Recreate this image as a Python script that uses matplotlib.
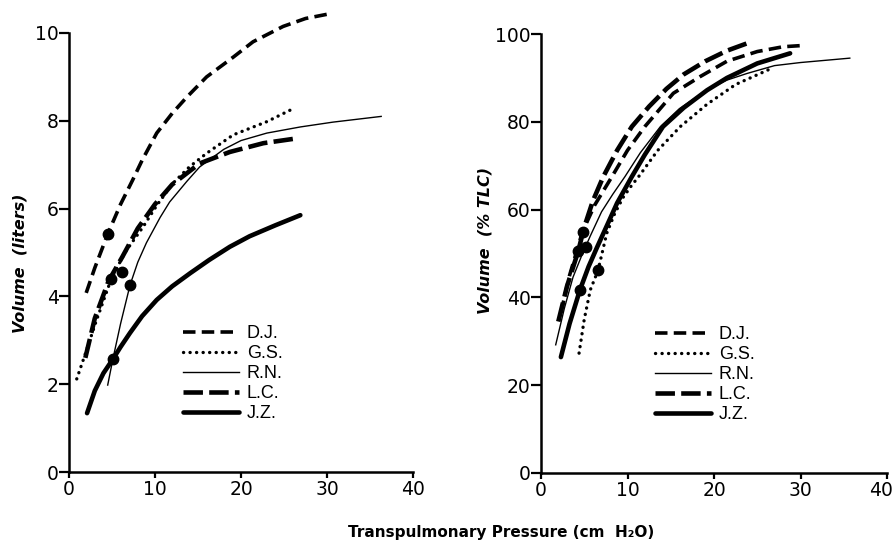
import matplotlib
matplotlib.use("Agg")
from matplotlib import pyplot as plt
from matplotlib.transforms import ScaledTranslation

plt.rcParams["lines.scale_dashes"] = False
plt.rcParams["font.family"] = ["DejaVu Sans"]

# ---- left panel: volume in liters ----
dj_l_x = [2.0, 3.0, 4.5, 6.0, 7.4, 8.5, 10.2, 12.0, 13.7, 16.0, 19.1, 21.4, 24.9, 27.5, 30.1]
dj_l_y = [4.08, 4.65, 5.42, 6.1, 6.65, 7.1, 7.72, 8.17, 8.54, 9.0, 9.45, 9.8, 10.15, 10.33, 10.43]

gs_l_x = [0.9, 2.0, 3.2, 4.9, 6.5, 8.6, 10.3, 12.1, 14.0, 16.0, 19.1, 23.0, 26.0]
gs_l_y = [2.12, 2.75, 3.46, 4.39, 5.0, 5.58, 6.1, 6.58, 6.95, 7.26, 7.68, 7.98, 8.27]

rn_l_x = [4.5, 5.1, 6.0, 7.1, 8.0, 9.0, 10.6, 11.7, 13.7, 15.2, 18.0, 20.0, 23.0, 26.9, 30.7, 36.3]
rn_l_y = [1.98, 2.57, 3.38, 4.26, 4.78, 5.22, 5.8, 6.15, 6.62, 6.95, 7.35, 7.55, 7.72, 7.86, 7.97, 8.1]

lc_l_x = [1.9, 3.0, 4.6, 6.2, 8.0, 10.0, 12.0, 15.2, 18.7, 22.6, 26.5]
lc_l_y = [2.6, 3.5, 4.35, 4.9, 5.55, 6.1, 6.55, 7.03, 7.29, 7.49, 7.6]

jz_l_x = [2.1, 3.0, 4.0, 5.1, 6.0, 7.1, 8.5, 10.2, 12.0, 14.1, 16.3, 18.7, 21.0, 24.0, 26.9]
jz_l_y = [1.34, 1.85, 2.25, 2.57, 2.85, 3.17, 3.55, 3.92, 4.23, 4.53, 4.83, 5.13, 5.37, 5.62, 5.85]

# reference points (filled circles), liters
dot_l_x = [4.5, 4.9, 6.2, 7.1, 5.1]
dot_l_y = [5.42, 4.39, 4.56, 4.26, 2.57]

# ---- right panel: volume in % TLC ----
dj_p_x = [2.3, 3.3, 4.8, 6.2, 8.2, 10.0, 12.0, 15.3, 18.4, 21.5, 25.0, 28.0, 30.4]
dj_p_y = [36.5, 45.0, 55.0, 61.0, 67.5, 73.5, 78.9, 86.5, 90.3, 93.8, 96.0, 97.1, 97.4]

gs_p_x = [4.4, 5.0, 5.7, 6.6, 7.6, 8.5, 9.5, 10.4, 11.4, 13.5, 16.1, 19.2, 22.5, 26.8]
gs_p_y = [27.3, 35.0, 41.7, 46.2, 54.6, 59.0, 62.8, 65.3, 67.8, 73.5, 78.9, 84.0, 88.5, 92.3]

rn_p_x = [1.7, 2.7, 3.7, 4.7, 5.7, 7.0, 8.3, 9.7, 11.5, 13.8, 16.0, 19.0, 21.5, 23.8, 27.0, 30.0, 35.7]
rn_p_y = [29.2, 37.5, 44.6, 49.5, 54.0, 59.5, 63.5, 67.5, 73.0, 78.9, 83.0, 87.0, 89.5, 91.0, 92.8, 93.5, 94.5]

lc_p_x = [2.0, 3.0, 4.3, 5.0, 6.0, 7.2, 8.8, 10.5, 12.5, 14.5, 16.5, 19.0, 21.5, 24.0]
lc_p_y = [34.5, 42.5, 50.5, 56.0, 62.0, 67.5, 73.5, 78.9, 83.5, 87.5, 90.8, 93.8, 96.2, 98.0]

jz_p_x = [2.3, 3.3, 4.5, 5.5, 6.5, 8.0, 8.8, 10.5, 12.0, 14.1, 16.5, 19.2, 21.5, 25.0, 28.8]
jz_p_y = [26.4, 34.0, 41.7, 47.0, 51.5, 58.0, 61.5, 67.5, 72.5, 78.9, 83.2, 87.2, 90.0, 93.3, 95.6]

dot_p_x = [4.8, 6.6, 5.2, 4.3, 4.5]
dot_p_y = [55.0, 46.2, 51.5, 50.5, 41.7]

names = ["D.J.", "G.S.", "R.N.", "L.C.", "J.Z."]
x_ticks = [0, 10, 20, 30, 40]

styles = {
    "D.J.": dict(lw=2.6, dashes=(9, 4.5), dash_capstyle="butt"),
    "G.S.": dict(lw=2.4, dashes=(0.1, 4.6), dash_capstyle="round"),
    "R.N.": dict(lw=1.0),
    "L.C.": dict(lw=3.3, dashes=(14, 4.5), dash_capstyle="butt"),
    "J.Z.": dict(lw=3.3, solid_capstyle="round"),
}

fig = plt.figure(figsize=(8.96, 5.51), dpi=100)
ax1 = fig.add_axes([69 / 896, 79 / 551, 344 / 896, 465 / 551])
ax2 = fig.add_axes([541 / 896, 78 / 551, 346 / 896, 465 / 551])

left = [(dj_l_x, dj_l_y), (gs_l_x, gs_l_y), (rn_l_x, rn_l_y), (lc_l_x, lc_l_y), (jz_l_x, jz_l_y)]
right = [(dj_p_x, dj_p_y), (gs_p_x, gs_p_y), (rn_p_x, rn_p_y), (lc_p_x, lc_p_y), (jz_p_x, jz_p_y)]

for ax, series, dx, dy in ((ax1, left, dot_l_x, dot_l_y), (ax2, right, dot_p_x, dot_p_y)):
    for name, (x, y) in zip(names, series):
        ax.plot(x, y, color="black", label=name, clip_on=False, **styles[name])
    ax.plot(dx, dy, "o", color="black", ms=7.5, clip_on=False)

ax1.set_xlim(0, 40)
ax1.set_ylim(0, 465 / 43.9)
ax1.set_yticks([0, 2, 4, 6, 8, 10])
ax1.spines["left"].set_bounds(0, 10)

ax2.set_xlim(0, 40)
ax2.set_ylim(0, 465 / 4.39)
ax2.set_yticks([0, 20, 40, 60, 80, 100])
ax2.spines["left"].set_bounds(0, 100)

for ax in (ax1, ax2):
    ax.set_xticks(x_ticks)
    ax.spines["top"].set_visible(False)
    ax.spines["right"].set_visible(False)
    ax.spines["left"].set_linewidth(1.8)
    ax.spines["bottom"].set_linewidth(1.8)
    ax.tick_params(axis="y", direction="out", length=7, width=1.6, pad=0.5, labelsize=13.5)
    ax.tick_params(axis="x", direction="out", length=4, width=1.6, pad=1.5, labelsize=13.5)
    ax.patch.set_visible(False)
    ax.legend(loc="upper left", frameon=False,
              prop={"family": "Liberation Sans", "size": 13},
              handlelength=3.1, handletextpad=0.45, labelspacing=0.17,
              borderpad=0, borderaxespad=0)

ax1.get_legend().set_bbox_to_anchor((0.331, 0.316))
ax2.get_legend().set_bbox_to_anchor((0.329, 0.316))

# keep the right-most "40" inside the figure
last = ax2.get_xticklabels()[-1]
last.set_transform(last.get_transform() + ScaledTranslation(-6 / 100, 0, fig.dpi_scale_trans))

fig.text(20 / 896, 1 - 263 / 551, "Volume  (liters)", rotation=90, ha="center", va="center",
         fontsize=11.5, fontweight="bold", style="italic")
fig.text(485 / 896, 1 - 240 / 551, "Volume  (% TLC)", rotation=90, ha="center", va="center",
         fontsize=11.5, fontweight="bold", style="italic")
fig.text(501 / 896, 1 - 533 / 551, "Transpulmonary Pressure (cm  H\u2082O)", ha="center", va="center",
         fontsize=11, fontweight="bold")

fig.savefig("out.png", dpi=100)
